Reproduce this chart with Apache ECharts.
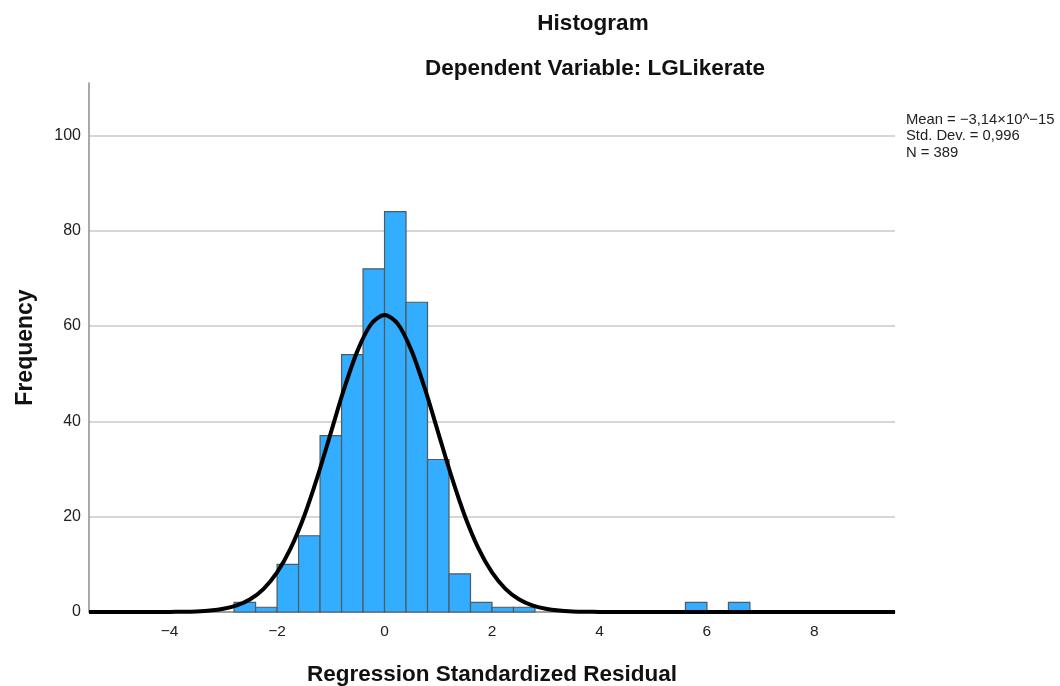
<!DOCTYPE html>
<html>
<head>
<meta charset="utf-8">
<script src="https://cdn.jsdelivr.net/npm/echarts@6/dist/echarts.min.js"></script>
<style>
  html, body { margin: 0; padding: 0; background: #ffffff; }
  #chart { width: 1060px; height: 686px; }
</style>
</head>
<body>
<div id="chart"></div>
<script>
// Histogram bins: lower edge of each bin and its frequency
const binLower = [-2.8, -2.4, -2.0, -1.6, -1.2, -0.8, -0.4, 0.0, 0.4, 0.8, 1.2, 1.6, 2.0, 2.4, 5.6, 6.4];
const binCounts = [2, 1, 10, 16, 37, 54, 72, 84, 65, 32, 8, 2, 1, 1, 2, 2];
const binWidth = 0.4;

// Fitted normal curve (scaled to frequency)
const curveX = [-5.5, -4.5, -4.25, -4.0, -3.75, -3.5, -3.25, -3.0, -2.75, -2.5, -2.25, -2.0, -1.75, -1.5, -1.25, -1.0, -0.75, -0.5, -0.25, 0.0,
                0.25, 0.5, 0.75, 1.0, 1.25, 1.5, 1.75, 2.0, 2.25, 2.5, 2.75, 3.0, 3.25, 3.5, 3.75, 4.0, 4.25, 4.5, 9.5];
const curveY = [0, 0, 0.007, 0.02, 0.05, 0.13, 0.30, 0.67, 1.38, 2.67, 4.86, 8.3, 13.3, 20.0, 28.3, 37.6, 46.9, 54.9, 60.4, 62.3,
                60.4, 54.9, 46.9, 37.6, 28.3, 20.0, 13.3, 8.3, 4.86, 2.67, 1.38, 0.67, 0.30, 0.13, 0.05, 0.02, 0.007, 0, 0];

// Axis ticks
const xTickValues = [-4, -2, 0, 2, 4, 6, 8];
const yTickValues = [0, 20, 40, 60, 80, 100];

// Texts
const chartTitle = 'Histogram';
const chartSubtitle = 'Dependent Variable: LGLikerate';
const xAxisTitle = 'Regression Standardized Residual';
const yAxisTitle = 'Frequency';
const statLines = ['Mean = \u22123,14\u00d710^\u221215', 'Std. Dev. = 0,996', 'N = 389'];

const FONT = '"Liberation Sans", Arial, sans-serif';

const chart = echarts.init(document.getElementById('chart'), null, { renderer: 'canvas' });

const barData = binLower.map((lo, i) => [lo, lo + binWidth, binCounts[i]]);
const curveData = curveX.map((x, i) => [x, curveY[i]]);

chart.setOption({
  animation: false,
  backgroundColor: '#ffffff',
  textStyle: { fontFamily: FONT },
  title: [
    {
      text: chartTitle,
      left: 588, top: 7, textAlign: 'center',
      textStyle: { fontFamily: FONT, fontSize: 22.5, fontWeight: 'bold', color: '#111111' }
    },
    {
      text: chartSubtitle,
      left: 590, top: 52, textAlign: 'center',
      textStyle: { fontFamily: FONT, fontSize: 22.5, fontWeight: 'bold', color: '#111111' }
    }
  ],
  grid: { left: 89, right: 165, top: 83, bottom: 74, containLabel: false, outerBoundsMode: 'none' },
  xAxis: {
    type: 'value',
    min: -5.5,
    max: 9.5,
    name: xAxisTitle,
    nameLocation: 'middle',
    nameGap: 51,
    nameTextStyle: { fontFamily: FONT, fontSize: 22.5, fontWeight: 'bold', color: '#111111' },
    axisLine: { show: true, onZero: false, lineStyle: { color: '#8c8c8c', width: 1.5 } },
    axisTick: { show: false },
    splitLine: { show: false },
    axisLabel: {
      customValues: xTickValues,
      margin: 12,
      fontFamily: FONT, fontSize: 15.5, color: '#222222',
      formatter: v => String(v).replace('-', '\u2212')
    }
  },
  yAxis: {
    type: 'value',
    min: 0,
    max: 111,
    interval: 20,
    name: yAxisTitle,
    nameLocation: 'middle',
    nameGap: 52,
    nameRotate: 90,
    nameTextStyle: { fontFamily: FONT, fontSize: 23, fontWeight: 'bold', color: '#111111' },
    axisLine: { show: true, onZero: false, lineStyle: { color: '#8c8c8c', width: 1.5 } },
    axisTick: { show: false },
    axisLabel: {
      customValues: yTickValues,
      margin: 8,
      fontFamily: FONT, fontSize: 16, color: '#222222'
    },
    splitLine: { show: true, showMaxLine: false, lineStyle: { color: '#c8c8c8', width: 1.5 } }
  },
  graphic: statLines.map((t, i) => ({
    type: 'text',
    left: 906,
    top: 112 + i * 16.7,
    style: { text: t, fontFamily: FONT, fontSize: 14.8, fill: '#222222' }
  })),
  series: [
    {
      type: 'custom',
      name: 'Frequency',
      data: barData,
      encode: { x: [0, 1], y: 2 },
      z: 2,
      renderItem: function (params, api) {
        const topLeft = api.coord([api.value(0), api.value(2)]);
        const bottomRight = api.coord([api.value(1), 0]);
        return {
          type: 'rect',
          shape: {
            x: topLeft[0],
            y: topLeft[1],
            width: bottomRight[0] - topLeft[0],
            height: bottomRight[1] - topLeft[1]
          },
          style: { fill: '#33adff', stroke: '#505a60', lineWidth: 1.2 }
        };
      }
    },
    {
      type: 'line',
      name: 'Normal',
      data: curveData,
      smooth: 0.3,
      showSymbol: false,
      symbol: 'none',
      z: 3,
      lineStyle: { color: '#000000', width: 4 }
    }
  ]
});
</script>
</body>
</html>
